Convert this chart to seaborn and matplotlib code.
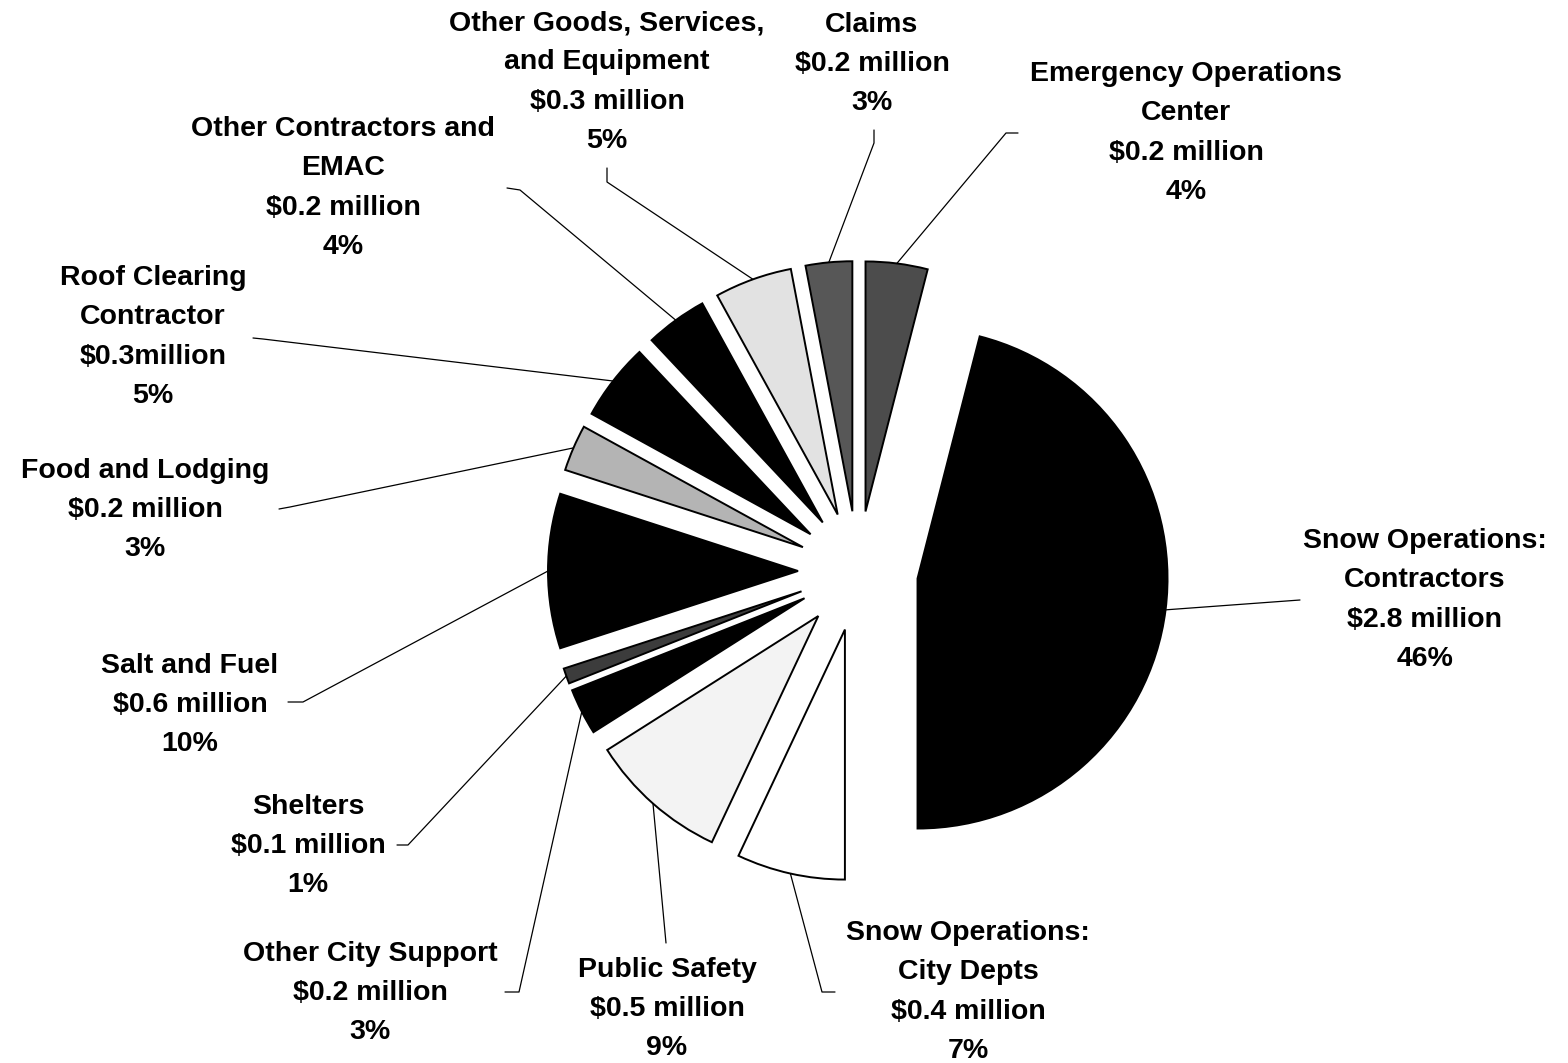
import numpy as np
import matplotlib.pyplot as plt
import seaborn as sns

# slices in clockwise order starting from the big one
categories = ['Snow Operations:\nContractors', 'Snow Operations:\nCity Depts', 'Public Safety',
              'Other City Support', 'Shelters', 'Salt and Fuel', 'Food and Lodging',
              'Roof Clearing\nContractor', 'Other Contractors and\nEMAC',
              'Other Goods, Services,\nand Equipment', 'Claims', 'Emergency Operations\nCenter']
amounts = ['$2.8 million', '$0.4 million', '$0.5 million', '$0.2 million', '$0.1 million',
           '$0.6 million', '$0.2 million', '$0.3million', '$0.2 million', '$0.3 million',
           '$0.2 million', '$0.2 million']
percents = [46, 7, 9, 3, 1, 10, 3, 5, 4, 5, 3, 4]

colores = ['black', 'white', '#f3f3f3', 'black', '#3c3c3c', 'black', '#b4b4b4',
           'black', 'black', '#e2e2e2', '#575757', '#4c4c4c']

# label layout in pixels (x, y from top)
pos_label = [(1425, 600), (968, 992), (667, 1009), (370, 993), (308, 846), (190, 705),
             (145, 510), (153, 337), (343, 188), (607, 82), (872, 64), (1186, 133)]
# leader lines: elbow point and end point near the label
codo = [(1300, 600), (822, 992), (666, 943), (519, 992), (408, 845), (303, 702),
        (290, 507), (263, 339), (520, 190), (607, 182), (874, 143), (1006, 133)]
punta = [(1300, 600), (835, 992), (666, 943), (505, 992), (397, 845), (288, 702),
         (279, 509), (253, 338), (507, 188), (607, 168), (874, 130), (1018, 133)]

W, H = 1568, 1063
sns.set_theme(style='white')
plt.rcParams['font.family'] = ['Liberation Sans', 'DejaVu Sans']

fig = plt.figure(figsize=(15.68, 10.63), dpi=100)
ax = fig.add_axes([0, 0, 1, 1])

radio = 250
centro = (858, H - 571)
wedges, _ = ax.pie(percents, colors=colores, startangle=75.6, counterclock=False,
                   radius=radio, center=centro, explode=[60] * len(percents),
                   wedgeprops=dict(edgecolor='black', linewidth=1.4))

for i, w in enumerate(wedges):
    ang = np.deg2rad((w.theta1 + w.theta2) / 2)
    ax0 = w.center[0] + w.r * np.cos(ang)
    ay0 = w.center[1] + w.r * np.sin(ang)
    xs = [ax0, codo[i][0], punta[i][0]]
    ys = [ay0, H - codo[i][1], H - punta[i][1]]
    ax.plot(xs, ys, color='black', linewidth=0.9)
    txt = f'{categories[i]}\n{amounts[i]}\n{percents[i]}%'
    ax.text(pos_label[i][0], H - pos_label[i][1], txt, ha='center', va='center',
            multialignment='center', fontsize=20.5, fontweight='bold', linespacing=1.66,
            color='black')

ax.set_xlim(0, W)
ax.set_ylim(0, H)
ax.set_aspect('equal')
ax.axis('off')

fig.savefig('out.png', dpi=100, facecolor='white')
